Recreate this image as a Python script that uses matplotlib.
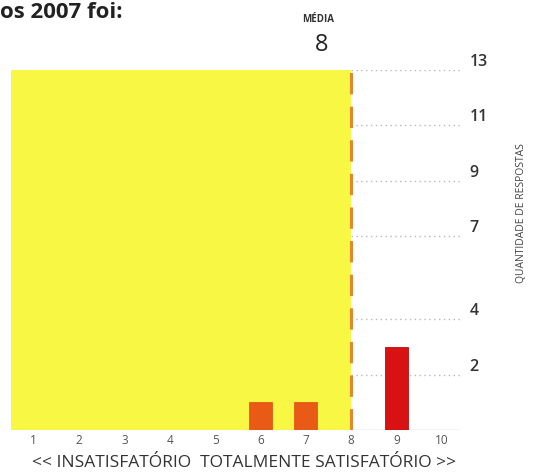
import matplotlib
matplotlib.use("Agg")
import matplotlib.pyplot as plt

# respostas por nota (1 a 10)
notas = [1, 2, 3, 4, 5, 6, 7, 8, 9, 10]
respostas = [0, 0, 0, 0, 0, 1, 1, 0, 3, 0]
cores = {6: "#e85a16", 7: "#e85a16", 9: "#d81212"}
media = 8
escala_y = [2, 4, 7, 9, 11, 13]

plt.rcParams["font.family"] = ["Open Sans", "DejaVu Sans"]

fig = plt.figure(figsize=(5.35, 4.72), dpi=100)
ax = fig.add_axes([11 / 535, 1 - 430 / 472, 449 / 535, 360 / 472])
ax.set_xlim(0.5, 10.4)
ax.set_ylim(0, 13)

# faixa até a média
ax.axvspan(0.5, media, ymin=0, ymax=1, color="#f7f744", lw=0, zorder=1)

# linhas de grade pontilhadas
ax.hlines(escala_y, media, 10.4, colors="#b8b8b8", linestyles=(0, (1, 2.5)),
          lw=1.0, zorder=0)
ax.hlines(0, media, 10.4, colors="#c8c8c8", lw=1.0, zorder=0)

for n, r in zip(notas, respostas):
    if r > 0:
        ax.bar(n, r, width=0.5, color=cores[n],
               edgecolor="#b01010" if n == 9 else cores[n], lw=0.6, zorder=3)

ax.vlines(media, 0, 13, colors="#e0892e", linestyles=(0, (7, 4)), lw=2.2, zorder=4)

for s in ax.spines.values():
    s.set_visible(False)
ax.set_xticks(notas)
ax.set_xticklabels([str(n) for n in notas], fontsize=8.5, color="#555555")
ax.tick_params(axis="x", length=0, pad=3)
ax.yaxis.tick_right()
ax.set_yticks(escala_y)
ax.set_yticklabels([str(v) for v in escala_y], fontsize=11.5, color="#333333",
                   fontweight="semibold")
ax.tick_params(axis="y", length=0, pad=7)
for t in ax.get_yticklabels():
    t.set_verticalalignment("bottom")

fig.text(0.0, 1 - 13 / 472, "os 2007 foi:", fontsize=16, fontweight="bold",
         color="#222222", va="center", ha="left")
fig.text(318 / 535, 1 - 20 / 472, "MÉDIA", fontsize=7, fontweight="bold",
         color="#333333", ha="center", va="center")
fig.text(322 / 535, 1 - 45 / 472, str(media), fontsize=17, color="#222222",
         ha="center", va="center")
fig.text(521 / 535, 1 - 213 / 472, "QUANTIDADE DE RESPOSTAS", fontsize=7.5,
         color="#444444", rotation=90, ha="center", va="center")
fig.text(244 / 535, 1 - 463 / 472,
         "<< INSATISFATÓRIO  TOTALMENTE SATISFATÓRIO >>", fontsize=12.5,
         color="#333333", ha="center", va="center")

fig.savefig("out.png", dpi=100)
